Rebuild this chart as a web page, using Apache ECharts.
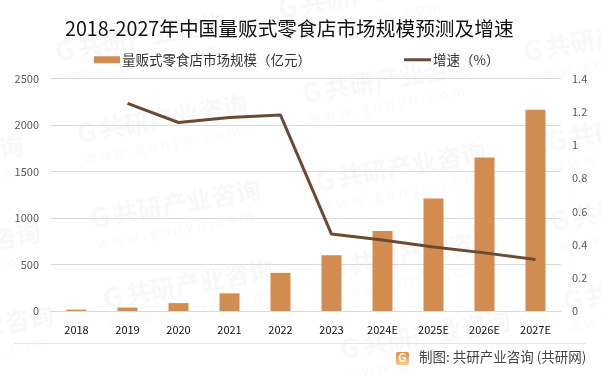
<!DOCTYPE html>
<html>
<head>
<meta charset="utf-8">
<style>
  html, body { margin: 0; padding: 0; background: #fff; }
  #chart { width: 601px; height: 375px; }
</style>
<script src="https://cdn.jsdelivr.net/npm/echarts@6/dist/echarts.min.js"></script>
</head>
<body>
<div id="chart"></div>
<script>
const categories = ['2018', '2019', '2020', '2021', '2022', '2023', '2024E', '2025E', '2026E', '2027E'];
const marketSize = [15, 37, 85, 190, 410, 600, 860, 1210, 1650, 2165];
const growth = [null, 1.25, 1.135, 1.165, 1.18, 0.463, 0.427, 0.386, 0.35, 0.31];
const leftTicks = [0, 500, 1000, 1500, 2000, 2500];
const rightTicks = [0, 0.2, 0.4, 0.6, 0.8, 1, 1.2, 1.4];
const barName = '量贩式零食店市场规模（亿元）';
const lineName = '增速（%）';
const titleText = '2018-2027年中国量贩式零食店市场规模预测及增速';
const creditText = '制图: 共研产业咨询 (共研网)';
const markCn = '共研产业咨询';
const markEn = 'w w w . g o n y n . c o m';
const markSpots = [[65, 50], [87, 132], [100, 217], [113, 297], [288, 7], [312, 92], [325, 180], [337, 267], [350, 348],
  [533, 50], [557, 140], [560, 220], [573, 300], [-160, 90], [-137, 173], [-120, 260], [-107, 343]];

const font = '"Noto Sans CJK SC", "Noto Sans", sans-serif';

// light diagonal watermark, sits behind everything
const watermark = markSpots.map(([x, y]) => ({
  type: 'group', x, y, rotation: 0.175, z: -1, silent: true,
  children: [
    { type: 'text', x: -10, y: 0, style: { text: 'G', fill: '#f8f8f8', font: 'bold 27px ' + font, verticalAlign: 'middle' } },
    { type: 'text', x: 13, y: 0, style: { text: markCn, fill: '#f8f8f8', font: 'bold 25px ' + font, verticalAlign: 'middle' } },
    { type: 'text', x: -8, y: 25, style: { text: markEn, fill: '#f9f9f9', font: '15px ' + font, verticalAlign: 'middle' } }
  ]
}));

const chart = echarts.init(document.getElementById('chart'));
chart.setOption({
  animation: false,
  backgroundColor: '#fff',
  title: {
    text: titleText, left: 60, top: 14,
    textStyle: { fontFamily: font, fontSize: 19.7, fontWeight: 'normal', color: '#111' }
  },
  legend: [
    {
      left: 94, top: 53, padding: 0, itemWidth: 26, itemHeight: 7, icon: 'rect',
      textStyle: { fontFamily: font, fontSize: 13.5, color: '#333', padding: [0, 0, 0, -3] },
      data: [barName]
    },
    {
      left: 404, top: 53, padding: 0, itemWidth: 27, itemHeight: 3, icon: 'rect',
      textStyle: { fontFamily: font, fontSize: 13.5, color: '#333', padding: [0, 0, 0, -3] },
      data: [lineName]
    }
  ],
  grid: { left: 51, right: 40, top: 78.5, bottom: 64 },
  xAxis: {
    type: 'category', data: categories,
    axisLine: { lineStyle: { color: '#d9d9d9' } },
    axisTick: { show: false },
    axisLabel: { color: '#111', fontSize: 11, margin: 13, fontFamily: font, interval: 0 }
  },
  yAxis: [
    {
      type: 'value', min: leftTicks[0], max: leftTicks[leftTicks.length - 1], interval: 500,
      axisLine: { show: false }, axisTick: { show: false },
      axisLabel: { color: '#595959', fontSize: 11, margin: 12, fontFamily: font, formatter: v => String(v) },
      splitLine: { lineStyle: { color: '#d9d9d9' } }
    },
    {
      type: 'value', min: rightTicks[0], max: rightTicks[rightTicks.length - 1], interval: 0.2,
      axisLine: { show: false }, axisTick: { show: false },
      axisLabel: { color: '#595959', fontSize: 11, margin: 11, fontFamily: font },
      splitLine: { show: false }
    }
  ],
  series: [
    { name: barName, type: 'bar', data: marketSize, barWidth: 20, itemStyle: { color: '#d28c50' } },
    { name: lineName, type: 'line', yAxisIndex: 1, data: growth, symbol: 'none',
      lineStyle: { color: '#6b4a33', width: 3 }, itemStyle: { color: '#6b4a33' } }
  ],
  graphic: watermark.concat([
    { type: 'line', shape: { x1: 14, y1: 343.5, x2: 586, y2: 343.5 }, style: { stroke: '#e6e6e6', lineWidth: 1 } },
    // little logo next to the credit line
    { type: 'rect', shape: { x: 396, y: 352, width: 13, height: 13, r: 2 },
      style: { fill: new echarts.graphic.LinearGradient(0, 0, 0, 1, [{ offset: 0, color: '#f08a3c' }, { offset: 1, color: '#fbc88c' }]) } },
    { type: 'text', x: 398, y: 351, style: { text: 'G', fill: '#fff', font: 'bold 12px ' + font } },
    { type: 'text', x: 419, y: 357, style: { text: creditText, fill: '#444', font: '13.5px ' + font, verticalAlign: 'middle' } }
  ])
});
</script>
</body>
</html>
